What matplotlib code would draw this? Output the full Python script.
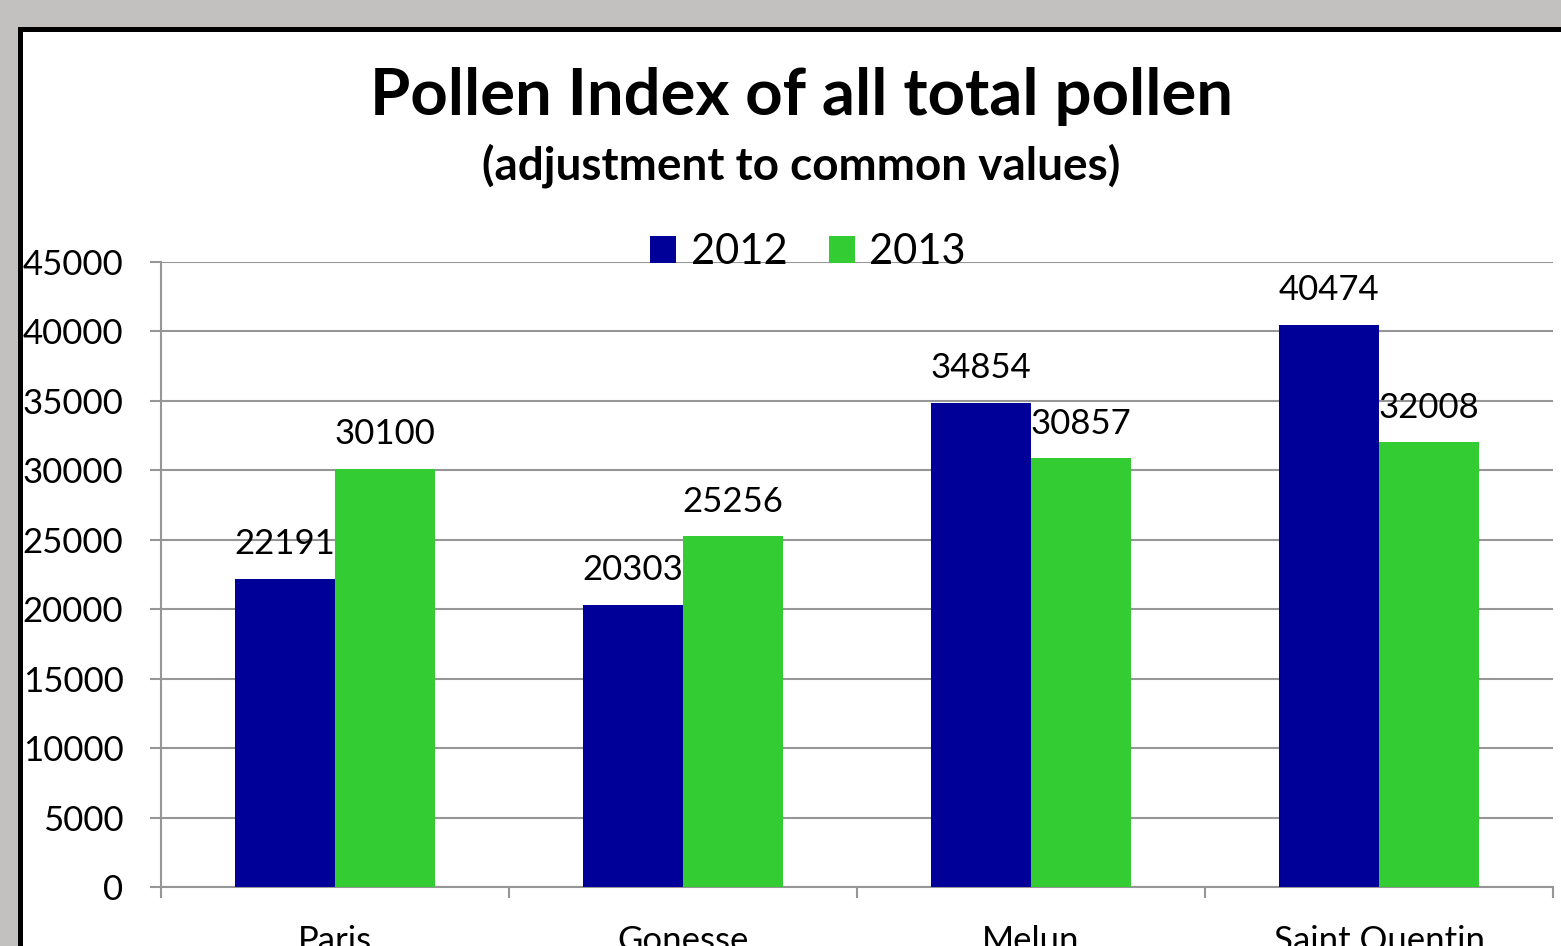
import numpy as np
import matplotlib.pyplot as plt
from matplotlib.patches import Rectangle

# data
cities = ["Paris", "Gonesse", "Melun", "Saint Quentin"]
years = ["2012", "2013"]
vals_2012 = [22191, 20303, 34854, 40474]
vals_2013 = [30100, 25256, 30857, 32008]
yticks = [0, 5000, 10000, 15000, 20000, 25000, 30000, 35000, 40000, 45000]

col_2012 = "#000099"
col_2013 = "#33cc33"
grid_col = "#969696"

plt.rcParams['font.family'] = ['Lato', 'DejaVu Sans']

fig = plt.figure(figsize=(15.61, 9.46), dpi=100)
fig.patch.set_facecolor("#c2c1c0")

# white slide area with black border (runs off right/bottom edge)
fig.patches.append(Rectangle((19.5/1561, -0.1), 1.2, 1 - 29.5/946 + 0.1,
                             transform=fig.transFigure, facecolor="white",
                             edgecolor="black", linewidth=3.6, zorder=-10))

ax = fig.add_axes([161/1561, 1-887/946, (1553-161)/1561, (887-262)/946])
ax.set_facecolor("none")

x = np.arange(len(cities))
w = 0.287
b1 = ax.bar(x - w/2, vals_2012, w, color=col_2012, label=years[0], zorder=3)
b2 = ax.bar(x + w/2, vals_2013, w, color=col_2013, label=years[1], zorder=3)

for bars, vals in [(b1, vals_2012), (b2, vals_2013)]:
    for r, v in zip(bars, vals):
        ax.annotate(str(v), (r.get_x() + r.get_width()/2, v),
                    xytext=(0, 25), textcoords="offset points",
                    ha="center", va="center", fontsize=25, zorder=4)

ax.set_xlim(-0.5, len(cities) - 0.5)
ax.set_ylim(0, 45000)
ax.set_yticks(yticks)
ax.set_yticklabels([str(t) for t in yticks])
ax.yaxis.grid(True, color=grid_col, linewidth=1.5, zorder=0)
ax.tick_params(axis="y", length=8, width=1.5, color=grid_col, pad=19,
               labelsize=25)

ax.set_xticks(x)
ax.set_xticklabels(cities)
ax.set_xticks(np.arange(-0.5, len(cities)), minor=True)
ax.tick_params(axis="x", which="major", length=0, pad=27, labelsize=25)
ax.tick_params(axis="x", which="minor", length=8, width=1.5, color=grid_col)

for s in ["top", "right"]:
    ax.spines[s].set_visible(False)
for s in ["left", "bottom"]:
    ax.spines[s].set_color(grid_col)
    ax.spines[s].set_linewidth(1.5)

fig.text(801/1561, 1-97/946, "Pollen Index of all total pollen",
         ha="center", va="center", fontsize=47, fontweight="bold")
fig.text(801/1561, 1-166/946, "(adjustment to common values)",
         ha="center", va="center", fontsize=33, fontweight="bold")

ax.legend(loc="center", bbox_to_anchor=(808/1561, 1-252/946),
          bbox_transform=fig.transFigure, ncol=2, frameon=False,
          fontsize=30, handlelength=0.62, handleheight=0.62,
          handletextpad=0.35, columnspacing=1.0)

fig.savefig("out.png", dpi=100, facecolor=fig.get_facecolor())
